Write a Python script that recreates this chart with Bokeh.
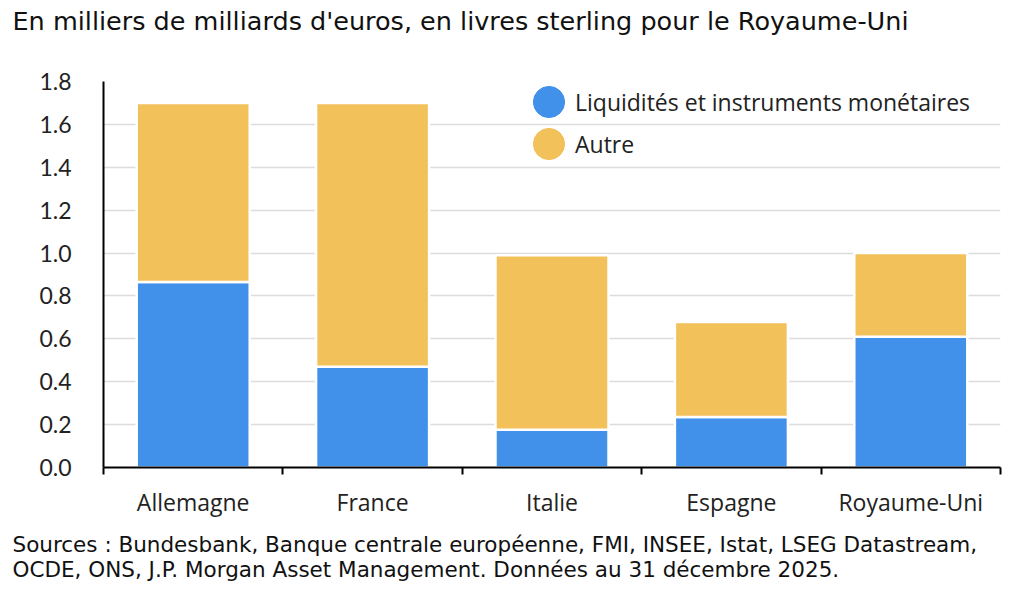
from bokeh.plotting import figure
from bokeh.models import (Range1d, FixedTicker, PrintfTickFormatter, Legend, LegendItem,
                          ColumnDataSource, Title)
from bokeh.embed import file_html
from bokeh.resources import INLINE

categories = ["Allemagne", "France", "Italie", "Espagne", "Royaume-Uni"]
liquidites = [0.865, 0.47, 0.176, 0.235, 0.61]
autre = [0.835, 1.23, 0.814, 0.443, 0.39]
series_names = ["Liquidités et instruments monétaires", "Autre"]
colors = ["#4190EA", "#F3C15A"]
y_ticks = [0.0, 0.2, 0.4, 0.6, 0.8, 1.0, 1.2, 1.4, 1.6, 1.8]
title_text = "En milliers de milliards d'euros, en livres sterling pour le Royaume-Uni"
source_lines = [
    "Sources : Bundesbank, Banque centrale européenne, FMI, INSEE, Istat, LSEG Datastream,",
    "OCDE, ONS, J.P. Morgan Asset Management. Données au 31 décembre 2025.",
]

xs = [i + 0.5 for i in range(len(categories))]

p = figure(width=1024, height=591, output_backend="svg", toolbar_location=None,
           x_range=Range1d(0, len(categories)), y_range=Range1d(0, 1.8),
           min_border_left=103, min_border_right=24, min_border_top=81, min_border_bottom=124)
p.outline_line_color = None
p.background_fill_color = "white"

# legend swatches: ellipses tucked under the first bar (hidden by it)
legend_items = []
for name, col in zip(series_names, colors):
    src = ColumnDataSource(dict(x=[xs[0]], y=[0.0]))
    r = p.ellipse(x="x", y="y", width=2, height=2, width_units="screen", height_units="screen",
                  source=src, fill_color=col, line_color=col)
    legend_items.append(LegendItem(label=name, renderers=[r]))

data = dict(x=xs, liq=liquidites, autre=autre)
rs = p.vbar_stack(["liq", "autre"], x="x", width=0.63, source=data, color=colors,
                  line_color="white", line_width=2.5)

legend = Legend(items=legend_items, location=(426, 304), glyph_width=39, glyph_height=39,
                spacing=3, label_standoff=7, padding=0, margin=0, border_line_color=None,
                background_fill_alpha=0, label_text_font="Open Sans",
                label_text_font_size="23px", label_text_color="#222222")
p.add_layout(legend, "center")

# grid
p.xgrid.visible = False
p.ygrid.grid_line_color = "#DCDCDC"
p.ygrid.grid_line_width = 1.5
p.ygrid.ticker = FixedTicker(ticks=y_ticks)

# y axis
p.yaxis.ticker = FixedTicker(ticks=y_ticks)
p.yaxis.formatter = PrintfTickFormatter(format="%.1f")
p.yaxis.major_tick_line_color = None
p.yaxis.minor_tick_line_color = None
p.yaxis.axis_line_color = "black"
p.yaxis.axis_line_width = 2
p.yaxis.major_label_text_font = "Lato"
p.yaxis.major_label_text_font_size = "23px"
p.yaxis.major_label_text_color = "#222222"
p.yaxis.major_label_standoff = 26

# x axis
p.xaxis.ticker = FixedTicker(ticks=xs, minor_ticks=list(range(len(categories) + 1)))
p.xaxis.major_label_overrides = {x: c for x, c in zip(xs, categories)}
p.xaxis.major_tick_line_color = None
p.xaxis.minor_tick_line_color = "black"
p.xaxis.minor_tick_line_width = 2
p.xaxis.minor_tick_out = 7
p.xaxis.minor_tick_in = 0
p.xaxis.axis_line_color = "black"
p.xaxis.axis_line_width = 2
p.xaxis.major_label_text_font = "Open Sans"
p.xaxis.major_label_text_font_size = "23px"
p.xaxis.major_label_text_color = "#222222"
p.xaxis.major_label_standoff = 11

# title: a trailing blank line lifts the text towards the top edge
p.title.text = title_text + "\n "
p.title.align = "left"
p.title.vertical_align = "top"
p.title.offset = -91
p.title.standoff = 0
p.title.text_font = "DejaVu Sans"
p.title.text_font_size = "25.5px"
p.title.text_line_height = 1.45
p.title.text_font_style = "normal"
p.title.text_color = "#111111"

src_title = Title(text="\n".join(source_lines), align="left", offset=-91, standoff=18,
                  text_font="DejaVu Sans", text_font_size="21.5px", text_font_style="normal",
                  text_color="#111111", text_line_height=1.0)
p.add_layout(src_title, "below")

open("out.html", "w").write(file_html(p, INLINE))
